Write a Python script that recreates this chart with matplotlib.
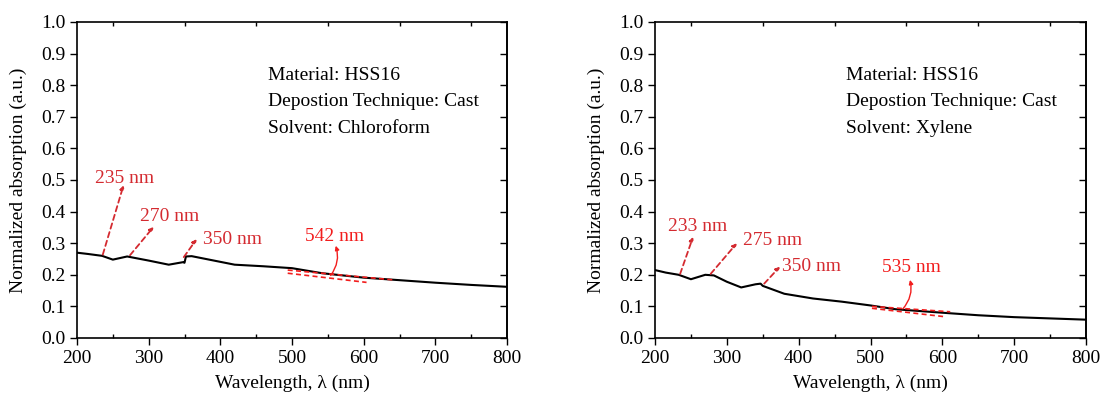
import matplotlib
matplotlib.use("Agg")
import matplotlib.pyplot as plt
from matplotlib.ticker import MultipleLocator, FormatStrFormatter, NullFormatter

plt.rcParams['font.family'] = ['Liberation Serif', 'DejaVu Serif']

# ---- data ----
wl_chloro = [200, 215, 235, 250, 270, 300, 328, 348, 350, 352, 360, 380, 420, 460, 500, 542, 600, 650, 700, 750, 800]
abs_chloro = [0.270, 0.266, 0.260, 0.248, 0.258, 0.245, 0.232, 0.240, 0.238, 0.258, 0.259, 0.250, 0.232, 0.227, 0.221, 0.205, 0.191, 0.183, 0.175, 0.168, 0.162]

wl_xyl = [200, 215, 233, 250, 270, 282, 300, 320, 340, 347, 350, 380, 420, 460, 500, 535, 600, 650, 700, 750, 800]
abs_xyl = [0.215, 0.207, 0.200, 0.186, 0.200, 0.198, 0.178, 0.160, 0.170, 0.172, 0.165, 0.140, 0.125, 0.115, 0.103, 0.091, 0.080, 0.072, 0.066, 0.062, 0.058]

peaks_chloro = ["235 nm", "270 nm", "350 nm", "542 nm"]
peaks_xyl = ["233 nm", "275 nm", "350 nm", "535 nm"]

info_chloro = ["Material: HSS16", "Depostion Technique: Cast", "Solvent: Chloroform"]
info_xyl = ["Material: HSS16", "Depostion Technique: Cast", "Solvent: Xylene"]

xlabel = "Wavelength, λ (nm)"
ylabel = "Normalized absorption (a.u.)"

RED = '#d42a30'
RED2 = '#f21d1d'
FS = 14

fig = plt.figure(figsize=(11.03, 3.94), dpi=100)
W, H = 1103, 394
ax1 = fig.add_axes([77 / W, 1 - 338 / H, 430 / W, 316 / H])
ax2 = fig.add_axes([655 / W, 1 - 338 / H, 431 / W, 316 / H])


def style(ax):
    ax.set_xlim(200, 800)
    ax.set_ylim(0, 1.0)
    ax.xaxis.set_major_locator(MultipleLocator(100))
    ax.xaxis.set_minor_locator(MultipleLocator(50))
    ax.yaxis.set_major_locator(MultipleLocator(0.1))
    ax.yaxis.set_major_formatter(FormatStrFormatter('%.1f'))
    ax.tick_params(axis='both', which='major', direction='out', length=5, width=1, labelsize=FS)
    ax.tick_params(axis='x', which='minor', direction='in', length=3, width=1, top=True, bottom=True)
    ax.tick_params(axis='x', which='major', top=False)
    ax.tick_params(axis='y', which='major', right=False)
    for s in ax.spines.values():
        s.set_linewidth(1.2)
    sec = ax.secondary_yaxis('right')
    sec.yaxis.set_major_locator(MultipleLocator(0.1))
    sec.yaxis.set_major_formatter(NullFormatter())
    sec.tick_params(direction='in', length=5, width=1)
    sec.spines['right'].set_linewidth(1.2)
    ax.set_xlabel(xlabel, fontsize=FS, labelpad=6)
    ax.set_ylabel(ylabel, fontsize=FS, labelpad=10)


for ax in (ax1, ax2):
    style(ax)

ax1.plot(wl_chloro, abs_chloro, color='black', lw=1.5)
ax2.plot(wl_xyl, abs_xyl, color='black', lw=1.5)


def info(ax, lines):
    for i, t in enumerate(lines):
        ax.text(466, 0.832 - i * 0.084, t, fontsize=FS, va='center', ha='left')


info(ax1, info_chloro)
info(ax2, info_xyl)


def dash_label(ax, p0, p1, txt, tpos):
    ax.annotate('', xy=p1, xytext=p0,
                arrowprops=dict(arrowstyle='-|>', color=RED, lw=1.3, ls=(0, (3, 2)),
                                mutation_scale=6, shrinkA=0, shrinkB=0))
    ax.text(tpos[0], tpos[1], txt, color=RED, fontsize=FS, va='center', ha='left')


def fit_label(ax, seg1, seg2, p0, p1, txt, tpos):
    ax.plot(seg1[0], seg1[1], color=RED2, lw=1.2, ls=(0, (3, 2)))
    ax.plot(seg2[0], seg2[1], color=RED2, lw=1.2, ls=(0, (3, 2)))
    ax.annotate('', xy=p1, xytext=p0,
                arrowprops=dict(arrowstyle='-|>', color=RED2, lw=1.0,
                                connectionstyle='arc3,rad=0.25',
                                mutation_scale=6, shrinkA=0, shrinkB=0))
    ax.text(tpos[0], tpos[1], txt, color=RED2, fontsize=FS, va='center', ha='left')


# left panel annotations
dash_label(ax1, (236, 0.264), (265, 0.484), peaks_chloro[0], (225, 0.506))
dash_label(ax1, (274, 0.262), (307, 0.352), peaks_chloro[1], (288, 0.386))
dash_label(ax1, (349, 0.256), (367, 0.313), peaks_chloro[2], (376, 0.313))
fit_label(ax1, ([494, 604], [0.205, 0.176]), ([494, 641], [0.215, 0.184]),
          (554, 0.198), (561, 0.292), peaks_chloro[3], (518, 0.320))

# right panel annotations
dash_label(ax2, (235, 0.203), (253, 0.32), peaks_xyl[0], (218, 0.352))
dash_label(ax2, (277.5, 0.203), (314, 0.30), peaks_xyl[1], (322, 0.307))
dash_label(ax2, (352, 0.172), (374, 0.226), peaks_xyl[2], (377, 0.225))
fit_label(ax2, ([502, 611], [0.100, 0.083]), ([502, 601], [0.094, 0.068]),
          (545, 0.092), (555, 0.184), peaks_xyl[3], (516, 0.222))

fig.savefig('out.png', dpi=100)
